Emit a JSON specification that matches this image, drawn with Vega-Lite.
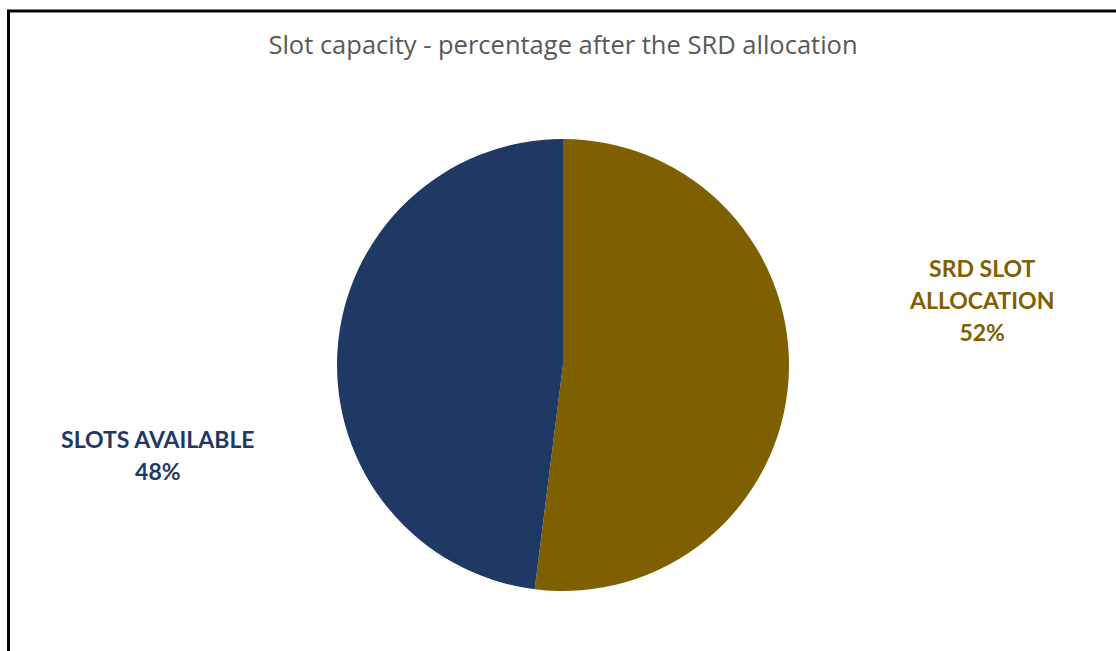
{
  "$schema": "https://vega.github.io/schema/vega-lite/v6.json",
  "width": 1109,
  "height": 708,
  "autosize": {"type": "none"},
  "padding": {"left": 8.5, "top": 11, "right": 0, "bottom": 0},
  "background": "white",
  "view": {"stroke": "#000000", "strokeWidth": 3, "fill": "white"},
  "config": {"view": {"stroke": "#000000", "strokeWidth": 3}},
  "title": {
    "text": "Slot capacity - percentage after the SRD allocation",
    "font": "Open Sans",
    "fontSize": 25.5,
    "fontWeight": "normal",
    "color": "#595959",
    "anchor": "middle",
    "frame": "group",
    "offset": -41,
    "dy": 27,
    "baseline": "alphabetic"
  },
  "data": {
    "values": [
      {"category": "SRD SLOT ALLOCATION", "label": "SRD SLOT\nALLOCATION", "share": 0.52},
      {"category": "SLOTS AVAILABLE", "label": "SLOTS AVAILABLE", "share": 0.48}
    ]
  },
  "encoding": {
    "theta": {"field": "share", "type": "quantitative", "stack": true},
    "order": {"field": "share", "sort": "descending"},
    "color": {
      "field": "category",
      "type": "nominal",
      "scale": {
        "domain": ["SRD SLOT ALLOCATION", "SLOTS AVAILABLE"],
        "range": ["#7F6000", "#203864"]
      },
      "legend": null
    }
  },
  "layer": [
    {"mark": {"type": "arc", "radius": 226}},
    {
      "mark": {"type": "text", "radius": 420, "dy": -121, "font": "Lato", "fontSize": 23, "fontWeight": "bold", "lineHeight": 32, "lineBreak": "\n"},
      "encoding": {
        "text": {"condition": {"test": "datum.category === 'SRD SLOT ALLOCATION'", "field": "label"}, "value": ""}
      }
    },
    {
      "mark": {"type": "text", "radius": 420, "dy": -57, "font": "Lato", "fontSize": 23, "fontWeight": "bold"},
      "encoding": {
        "text": {"condition": {"test": "datum.category === 'SRD SLOT ALLOCATION'", "field": "share", "format": ".0%"}, "value": ""}
      }
    },
    {
      "mark": {"type": "text", "radius": 406, "dy": 101, "font": "Lato", "fontSize": 23, "fontWeight": "bold"},
      "encoding": {
        "text": {"condition": {"test": "datum.category === 'SLOTS AVAILABLE'", "field": "label"}, "value": ""}
      }
    },
    {
      "mark": {"type": "text", "radius": 406, "dy": 133, "font": "Lato", "fontSize": 23, "fontWeight": "bold"},
      "encoding": {
        "text": {"condition": {"test": "datum.category === 'SLOTS AVAILABLE'", "field": "share", "format": ".0%"}, "value": ""}
      }
    }
  ]
}
